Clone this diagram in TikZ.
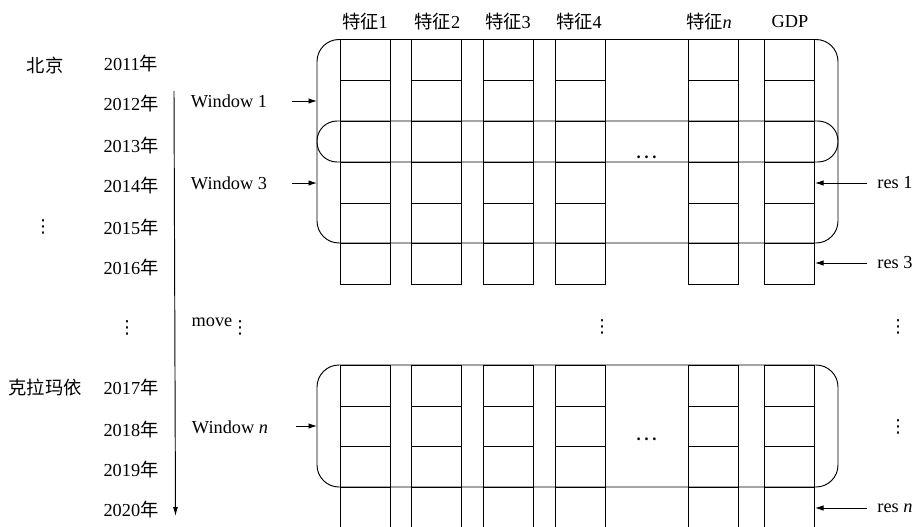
\documentclass[tikz,border=0pt]{standalone}
\usepackage{fontspec}
\setmainfont{Liberation Serif}
\newfontfamily\cjk{Noto Sans CJK SC}
\newfontfamily\djv{DejaVu Sans}
\usetikzlibrary{arrows.meta}
\tikzset{
  lbl/.style={inner sep=0pt, font=\fontsize{18.3}{21}\selectfont},
  vd/.style={inner sep=0pt, font=\djv\fontsize{18}{20}\selectfont},
  hd/.style={inner sep=0pt, font=\cjk\fontsize{21}{23}\selectfont},
  arr/.style={-{Latex[length=8.5pt,width=5.5pt]}},
  win/.style={rounded corners=22pt},
}
\begin{document}
\begin{tikzpicture}[x=1pt,y=-1pt,line width=0.95pt]
\useasboundingbox (0,0) rectangle (915,527);
% headers
\node[lbl] (h1) at (365,22) {{\cjk 特征}1};
\node[lbl] (h2) at (437.5,22) {{\cjk 特征}2};
\node[lbl] (h3) at (508,22) {{\cjk 特征}3};
\node[lbl] (h4) at (579,22) {{\cjk 特征}4};
\node[lbl] (hn) at (709,22) {{\cjk 特征}\textit{n}};
\node[lbl] (hg) at (790,22) {GDP};
% cities
\node[lbl] (bj) at (45,65) {\cjk 北京};
\node[vd] (vc) at (43,227) {⋮};
\node[lbl] (klmy) at (45,388) {\cjk 克拉玛依};
% years
\node[lbl] (y11) at (131,64) {2011{\cjk 年}};
\node[lbl] (y12) at (131,104) {2012{\cjk 年}};
\node[lbl] (y13) at (131,146) {2013{\cjk 年}};
\node[lbl] (y14) at (131,186) {2014{\cjk 年}};
\node[lbl] (y15) at (131,228) {2015{\cjk 年}};
\node[lbl] (y16) at (131,268) {2016{\cjk 年}};
\node[vd] (vy) at (127,328) {⋮};
\node[lbl] (y17) at (131,388) {2017{\cjk 年}};
\node[lbl] (y18) at (131,430) {2018{\cjk 年}};
\node[lbl] (y19) at (131,470) {2019{\cjk 年}};
\node[lbl] (y20) at (131,510) {2020{\cjk 年}};
% time arrow
\coordinate (ts) at (174,91);
\coordinate (te) at (175.5,516);
\draw[-{Latex[length=9pt,width=5pt]}] (ts) -- (te);
% windows labels
\node[lbl] (w1) at (229,101) {Window 1};
\node[lbl] (w3) at (229,183) {Window 3};
\node[lbl] (wn) at (230,427) {Window \textit{n}};
\node[lbl] (mv) at (212,322) {move};
\node[vd] (vm) at (240,328) {⋮};
% other vdots
\node[vd] (vmid) at (602,327) {⋮};
\node[vd] (vr1) at (898,327) {⋮};
\node[vd] (vr2) at (898,427) {⋮};
% columns
\foreach \xl in {340,411,483,555,688,764} {
  \draw (\xl,39.5) rectangle ++(50,244.5);
  \foreach \yy in {80.5,121,162,203,243} \draw (\xl,\yy) -- ++(50,0);
  \draw (\xl,528) -- (\xl,365) -- (\xl+50,365) -- (\xl+50,528);
  \foreach \yy in {406,446,487} \draw (\xl,\yy) -- ++(50,0);
}
% window boxes
\draw[win] (317,39.5) rectangle (838,243);
\draw[rounded corners=20pt] (317,121) rectangle (838,162);
\draw[win] (317,365) rectangle (838,487);
% horizontal ellipses
\node[hd] (el1) at (647,157) {…};
\node[hd] (el2) at (647,439) {…};
% window arrows
\coordinate (a1s) at (292,101); \coordinate (a1e) at (317,101);
\coordinate (a3s) at (292,183); \coordinate (a3e) at (317,183);
\coordinate (ans) at (296,426); \coordinate (ane) at (317,426);
\draw[arr] (a1s) -- (a1e);
\draw[arr] (a3s) -- (a3e);
\draw[arr] (ans) -- (ane);
% res labels
\node[lbl,anchor=west] (r1) at (877,183) {res 1};
\node[lbl,anchor=west] (r3) at (877,263) {res 3};
\node[lbl,anchor=west] (rn) at (877,508) {res \textit{n}};
\coordinate (r1s) at (867,183); \coordinate (r1e) at (815,183);
\coordinate (r3s) at (867,263); \coordinate (r3e) at (815,263);
\coordinate (rns) at (867,508); \coordinate (rne) at (815,508);
\draw[arr] (r1s) -- (r1e);
\draw[arr] (r3s) -- (r3e);
\draw[arr] (rns) -- (rne);
\end{tikzpicture}
\end{document}
